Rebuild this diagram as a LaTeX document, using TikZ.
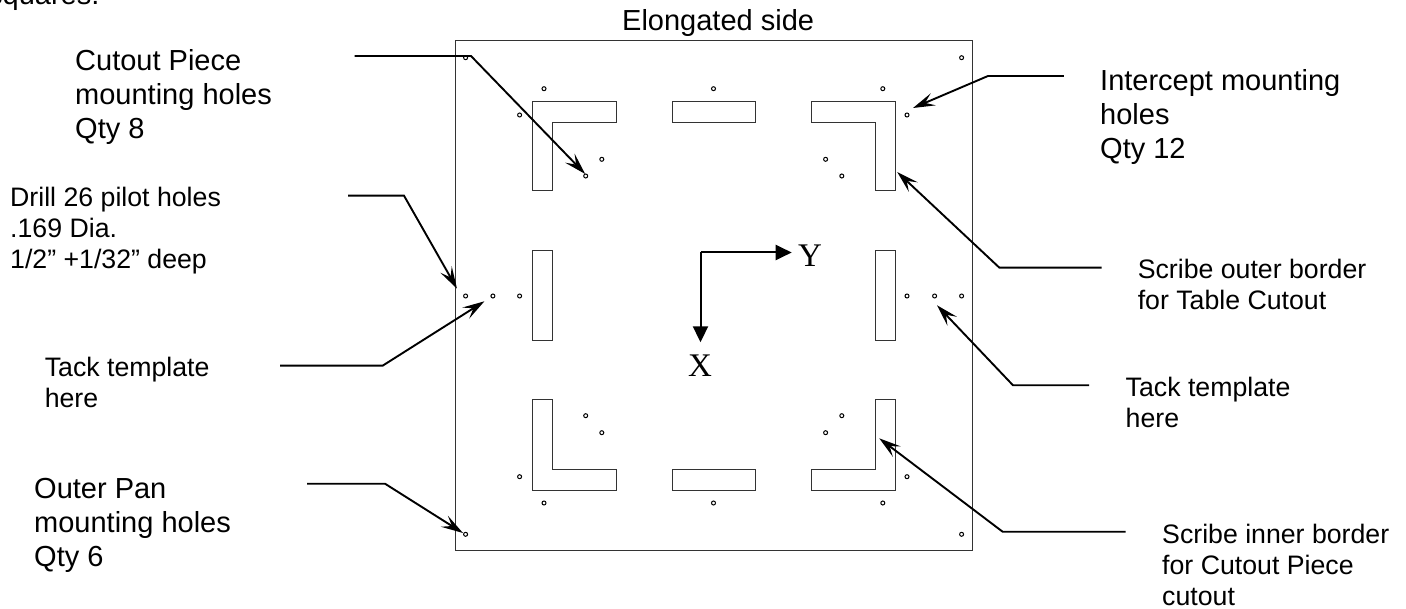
\documentclass[tikz,border=0pt]{standalone}
\usepackage{fontspec}
\setmainfont{Liberation Sans}
\newfontfamily\axisfont{Liberation Serif}
\usetikzlibrary{arrows.meta}
\tikzset{
  x=1pt,y=-1pt,
  outline/.style={draw=black!80,line width=1pt,line join=miter},
  hole/.style={draw=black,line width=1pt,fill=white},
  leader/.style={draw=black,line width=1.9pt,line join=miter,-{Stealth[length=22pt,width=13pt,inset=9pt]}},
  axis/.style={draw=black,line width=2pt,-{Triangle[length=16pt,width=15pt]}},
  biglabel/.style={anchor=base west,align=left,font=\fontsize{29}{34}\selectfont,inner sep=0pt},
  midlabel/.style={anchor=base west,align=left,font=\fontsize{26.7}{31}\selectfont,inner sep=0pt},
  axlabel/.style={inner sep=0pt,font=\axisfont\fontsize{33}{33}\selectfont}
}
\begin{document}
\begin{tikzpicture}
\useasboundingbox (0,0) rectangle (1406,609);
\path[fill=white] (0,0) rectangle (1406,609);
% board
\draw[outline] (455.4,41) rectangle (972,550.7);
% cut-outs
\draw[outline] (532,191)--(532,102)--(616,102)--(616,123)--(552,123)--(552,191)--cycle;
\draw[outline] (672,102) rectangle (755.4,123);
\draw[outline] (895.4,191)--(895.4,102)--(811.7,102)--(811.7,123)--(875.6,123)--(875.6,191)--cycle;
\draw[outline] (532,251) rectangle (552,340.3);
\draw[outline] (875.6,251) rectangle (895.4,340.3);
\draw[outline] (532,400)--(532,490)--(616,490)--(616,469)--(552,469)--(552,400)--cycle;
\draw[outline] (672,469) rectangle (755.4,490);
\draw[outline] (895.4,400)--(895.4,490)--(811.7,490)--(811.7,469)--(875.6,469)--(875.6,400)--cycle;
% holes
\foreach \hx/\hy in {465.6/57.7,544/88.7,519.6/115,601.8/159.3,585.7/176,713.5/88.7,882.8/88.7,907/115,825.6/159.3,841.8/176,961.6/57.7,
  465.6/296,492.9/296,519.6/296,907/296,934.6/296,961.6/296,
  585.7/415.7,601.8/432.7,519.6/476.7,544/503,465.6/534.3,713.5/503,882.8/503,907/476.7,825.6/432.7,841.8/415.7,961.6/534.3}
  \draw[hole] (\hx,\hy) circle (2);
% labels
\node[anchor=base west,inner sep=0pt,font=\fontsize{29}{34}\selectfont] (sq) at (-12,5) {squares.};
\node[biglabel] (top) at (622,31) {Elongated side};
\node[biglabel] (cp) at (75,138.5) {Cutout Piece\\mounting holes\\Qty 8};
\node[midlabel] (dr) at (10,268.7) {Drill 26 pilot holes\\.169 Dia.\\1/2” +1/32” deep};
\node[midlabel] (tl) at (44.6,408) {Tack template\\here};
\node[biglabel] (op) at (34,566) {Outer Pan\\mounting holes\\Qty 6};
\node[biglabel] (ic) at (1100,159) {Intercept mounting\\holes\\Qty 12};
\node[midlabel] (so) at (1137.6,310) {Scribe outer border\\for Table Cutout};
\node[midlabel] (tr) at (1125.5,428) {Tack template\\here};
\node[midlabel] (si) at (1162,605) {Scribe inner border\\for Cutout Piece\\cutout};
% leaders
\coordinate (a1) at (354.5,56); \coordinate (b1) at (471,56); \coordinate (c1) at (585.2,174);
\coordinate (a2) at (348,195.7); \coordinate (b2) at (404,195.7); \coordinate (c2) at (457,288.7);
\coordinate (a3) at (280,365.7); \coordinate (b3) at (382.6,365.7); \coordinate (c3) at (484.4,301.3);
\coordinate (a4) at (307,483.7); \coordinate (b4) at (385,483.7); \coordinate (c4) at (463,533);
\coordinate (a5) at (1063.8,76); \coordinate (b5) at (988,76); \coordinate (c5) at (913,108);
\coordinate (a6) at (1101.6,267.7); \coordinate (b6) at (999.4,267.7); \coordinate (c6) at (897.2,172);
\coordinate (a7) at (1089,385.3); \coordinate (b7) at (1013,385.3); \coordinate (c7) at (937,305.3);
\coordinate (a8) at (1125.5,531.7); \coordinate (b8) at (1002.6,531.7); \coordinate (c8) at (879.2,438.3);
\foreach \i in {1,...,8} \draw[leader] (a\i)--(b\i)--(c\i);
% axes
\coordinate (o) at (700.5,252.5); \coordinate (ye) at (791.7,252.5); \coordinate (xe) at (700.5,342.3);
\draw[axis] (o)--(ye);
\draw[axis] (o)--(xe);
\node[axlabel] (yl) at (810,256) {Y};
\node[axlabel] (xl) at (700,366) {X};
\end{tikzpicture}
\end{document}
